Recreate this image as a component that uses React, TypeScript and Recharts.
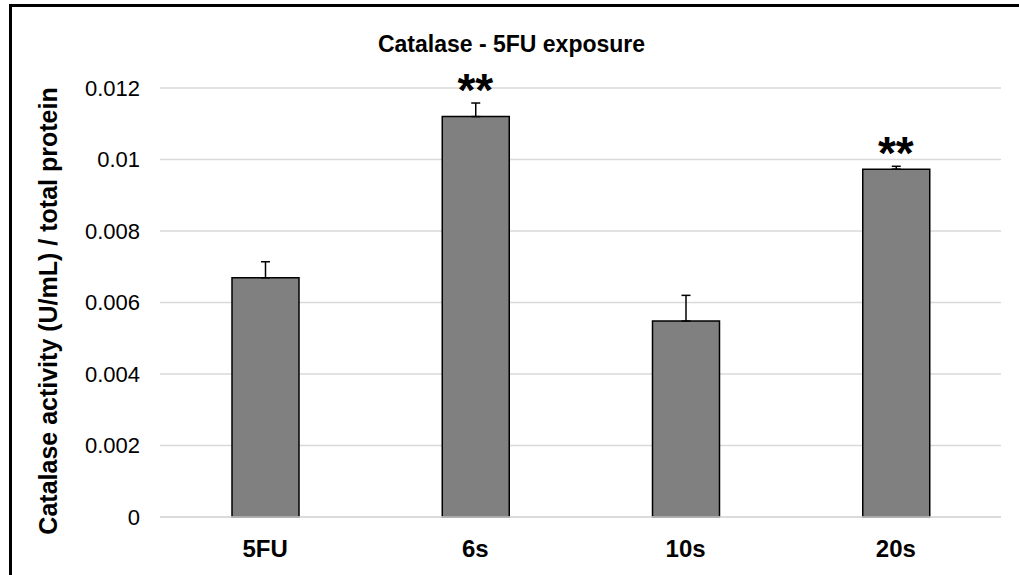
import React from "react";
import {
  ComposedChart,
  Bar,
  Line,
  XAxis,
  YAxis,
  CartesianGrid,
  ErrorBar,
  LabelList,
  Label,
} from "recharts";

const categories = ["5FU", "6s", "10s", "20s"];
const values = [0.00669, 0.0112, 0.00548, 0.00973];
const errors = [0.00045, 0.00038, 0.00072, 0.00008];
const significance = ["", "**", "", "**"];
const yTicks = [0, 0.002, 0.004, 0.006, 0.008, 0.01, 0.012];

const data = categories.map((c, i) => ({
  name: c,
  value: values[i],
  err: [0, errors[i]],
  top: values[i] + errors[i],
  sig: significance[i],
}));

const FONT = "'Liberation Sans', Arial, sans-serif";

const SigLabel = (props: any) => {
  const { x, y, value } = props;
  if (!value) return null;
  return (
    <text
      x={x}
      y={y + 3}
      textAnchor="middle"
      fontFamily={FONT}
      fontWeight="bold"
      fontSize={46}
      fill="#000"
    >
      {value}
    </text>
  );
};

const YLabel = () => (
  <text
    x={48}
    y={311}
    transform="rotate(-90 48 311)"
    textAnchor="middle"
    dominantBaseline="central"
    fontFamily={FONT}
    fontWeight="bold"
    fontSize={25}
    fill="#000"
  >
    Catalase activity (U/mL) / total protein
  </text>
);

export default function App() {
  return (
    <div
      style={{
        position: "absolute",
        left: 0,
        top: 0,
        width: 1019,
        height: 575,
        overflow: "hidden",
        background: "#fff",
        fontFamily: FONT,
      }}
    >
      <div
        style={{
          position: "absolute",
          left: 9,
          top: 4,
          width: 1010,
          height: 571,
          borderLeft: "3px solid #000",
          borderTop: "3px solid #000",
        }}
      />
      <div
        style={{
          position: "absolute",
          left: 0,
          top: 31,
          width: 1019,
          textAlign: "center",
          fontWeight: "bold",
          fontSize: 23,
          lineHeight: "26px",
          color: "#000",
          paddingLeft: 2,
        }}
      >
        Catalase - 5FU exposure
      </div>
      <div style={{ position: "absolute", left: 0, top: 0 }}>
        <ComposedChart
          width={1019}
          height={575}
          data={data}
          margin={{ top: 88, right: 18, bottom: 0, left: 60 }}
        >
          <CartesianGrid
            vertical={false}
            stroke="#d9d9d9"
            strokeWidth={1.5}
          />
          <XAxis
            dataKey="name"
            height={58}
            axisLine={{ stroke: "#d9d9d9", strokeWidth: 1.5 }}
            tickLine={false}
            tickSize={0}
            tickMargin={23}
            tick={{
              fill: "#000",
              fontSize: 24,
              fontWeight: "bold",
              fontFamily: FONT,
            }}
          />
          <YAxis
            width={100}
            domain={[0, 0.012]}
            ticks={yTicks}
            axisLine={false}
            tickLine={false}
            tickSize={0}
            tickMargin={20}
            tickFormatter={(v: number) => String(v)}
            tick={{ fill: "#000", fontSize: 22, fontFamily: FONT }}
          >
            <Label content={<YLabel />} />
          </YAxis>
          <Bar
            dataKey="value"
            fill="#808080"
            stroke="#000"
            strokeWidth={1.5}
            barSize={67}
            isAnimationActive={false}
          >
            <ErrorBar
              dataKey="err"
              direction="y"
              width={4.5}
              stroke="#000"
              strokeWidth={1.5}
            />
          </Bar>
          <Line
            dataKey="top"
            stroke="none"
            dot={false}
            activeDot={false}
            isAnimationActive={false}
          >
            <LabelList dataKey="sig" content={<SigLabel />} />
          </Line>
        </ComposedChart>
      </div>
    </div>
  );
}
